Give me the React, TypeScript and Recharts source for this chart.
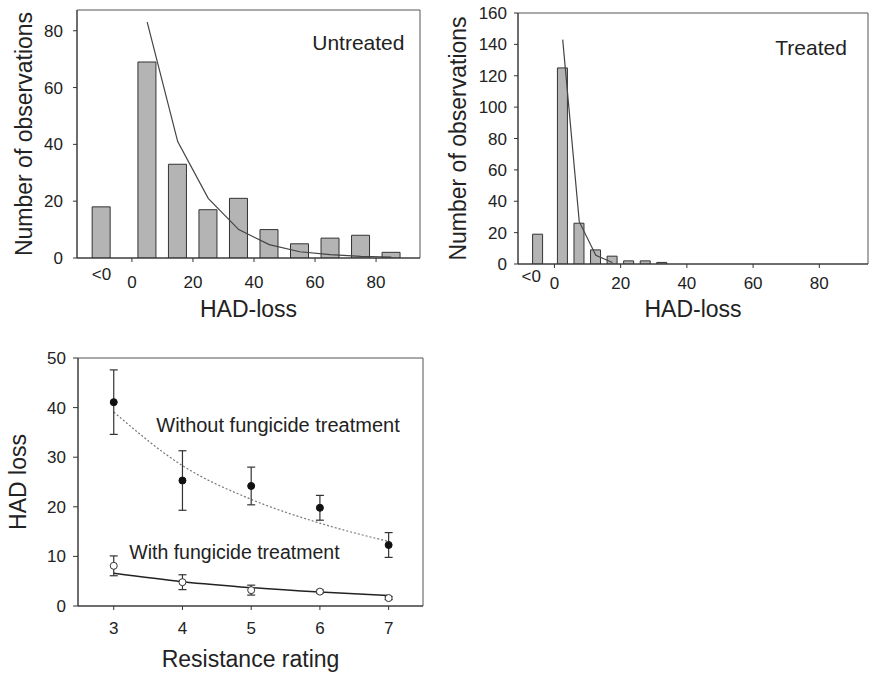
import {
  ComposedChart,
  Bar,
  Line,
  XAxis,
  YAxis,
  ReferenceArea,
  ReferenceDot,
  ErrorBar,
} from 'recharts'

// Histograms: bin centres on the HAD-loss axis, the "<0" class sits left of zero
const untreatedBins = [-10, 5, 15, 25, 35, 45, 55, 65, 75, 85]
const untreatedCounts = [18, 69, 33, 17, 21, 10, 5, 7, 8, 2]
const untreatedFit = [null, 83, 41, 21, 10, 4.7, 2.2, 1.2, 0.6, 0.3]

const treatedBins = [-5, 2.5, 7.5, 12.5, 17.5, 22.5, 27.5, 32.5]
const treatedCounts = [19, 125, 26, 9, 5, 2, 2, 1]
const treatedFit = [null, 143, 27, 5.5, 1, null, null, null]

const hadTicks = [0, 20, 40, 60, 80]
const untreatedCountTicks = [0, 20, 40, 60, 80]
const treatedCountTicks = [0, 20, 40, 60, 80, 100, 120, 140, 160]

// Resistance rating panel
const ratings = [3, 4, 5, 6, 7]
const withoutMean = [41.1, 25.3, 24.2, 19.8, 12.3]
const withoutErr = [6.5, 6, 3.8, 2.5, 2.5]
const withoutFit = [39.1, 28.3, 21.5, 16.7, 13.0]
const withMean = [8.1, 4.8, 3.2, 2.9, 1.6]
const withErr = [2, 1.5, 1, 0.3, 0.3]
const withFit = [6.6, 4.9, 3.7, 2.8, 2.1]
const lossTicks = [0, 10, 20, 30, 40, 50]

const untreatedData = untreatedBins.map((bin, i) => ({
  bin,
  count: untreatedCounts[i],
  fit: untreatedFit[i],
}))

const treatedData = treatedBins.map((bin, i) => ({
  bin,
  count: treatedCounts[i],
  fit: treatedFit[i],
}))

const ratingData = ratings.map((rating, i) => ({
  rating,
  withoutMean: withoutMean[i],
  withoutErr: withoutErr[i],
  withoutFit: withoutFit[i],
  withMean: withMean[i],
  withErr: withErr[i],
  withFit: withFit[i],
}))

const ink = '#222'
const axisColor = '#333'
const barFill = '#b4b4b4'

// x tick for the histograms: "<0" is raised and has no tick mark
function HistTick(props: any) {
  const { x, y, payload, gap, lift } = props
  if (payload.value < 0) {
    return (
      <text x={x} y={y - lift} dy="0.71em" textAnchor="middle" fontSize={17} fill={ink}>
        {'<0'}
      </text>
    )
  }
  return (
    <g>
      <line x1={x} x2={x} y1={y - gap} y2={y - gap + 4} stroke={axisColor} />
      <text x={x} y={y} dy="0.71em" textAnchor="middle" fontSize={17} fill={ink}>
        {payload.value}
      </text>
    </g>
  )
}

const yLabel = (value: string, offset: number) => ({
  value,
  angle: -90,
  position: 'insideLeft' as const,
  offset,
  fontSize: 23,
  fill: ink,
  style: { textAnchor: 'middle' },
})

const xLabel = (value: string, offset: number) => ({
  value,
  position: 'insideBottom' as const,
  offset,
  fontSize: 23,
  fill: ink,
})

export default function App() {
  return (
    <div
      style={{
        position: 'absolute',
        left: 0,
        top: 0,
        width: 872,
        height: 673,
        background: '#fff',
        fontFamily: '"Liberation Sans", Arial, sans-serif',
      }}
    >
      {/* Untreated histogram */}
      <div style={{ position: 'absolute', left: 0, top: 0 }}>
        <ComposedChart
          width={430}
          height={330}
          data={untreatedData}
          margin={{ top: 10, right: 10, bottom: 0, left: 0 }}
        >
          <XAxis
            dataKey="bin"
            type="number"
            domain={[-18, 94.4]}
            allowDataOverflow
            ticks={[-10, ...hadTicks]}
            tickSize={4}
            tickMargin={14}
            tickLine={false}
            tick={<HistTick gap={18} lift={8} />}
            height={72}
            stroke={axisColor}
            label={xLabel('HAD-loss', 13)}
          />
          <YAxis
            type="number"
            domain={[0, 87.3]}
            allowDataOverflow
            ticks={untreatedCountTicks}
            width={77}
            tickSize={4}
            tickMargin={10}
            stroke={axisColor}
            tick={{ fontSize: 17, fill: ink }}
            label={yLabel('Number of observations', 24)}
          />
          <ReferenceArea x1={-18} x2={94.4} y1={0} y2={87.3} fill="none" stroke="#555" />
          <Bar dataKey="count" barSize={18} fill={barFill} stroke={axisColor} isAnimationActive={false} />
          <Line
            dataKey="fit"
            type="linear"
            stroke="#444"
            strokeWidth={1.2}
            dot={false}
            isAnimationActive={false}
          />
          <ReferenceDot
            x={74.2}
            y={75.7}
            r={0}
            label={{ value: 'Untreated', position: 'center', fontSize: 21, fill: ink }}
          />
        </ComposedChart>
      </div>

      {/* Treated histogram */}
      <div style={{ position: 'absolute', left: 440, top: 0 }}>
        <ComposedChart
          width={432}
          height={330}
          data={treatedData}
          margin={{ top: 13, right: 4, bottom: 0, left: 0 }}
        >
          <XAxis
            dataKey="bin"
            type="number"
            domain={[-11, 94.7]}
            allowDataOverflow
            ticks={[-7, ...hadTicks]}
            tickSize={4}
            tickMargin={9}
            tickLine={false}
            tick={<HistTick gap={13} lift={7.5} />}
            height={66}
            stroke={axisColor}
            label={xLabel('HAD-loss', 13)}
          />
          <YAxis
            type="number"
            domain={[0, 160]}
            allowDataOverflow
            ticks={treatedCountTicks}
            width={78}
            tickSize={4}
            tickMargin={7}
            stroke={axisColor}
            tick={{ fontSize: 17, fill: ink }}
            label={yLabel('Number of observations', 17.5)}
          />
          <ReferenceArea x1={-11} x2={94.7} y1={0} y2={160} fill="none" stroke="#555" />
          <Bar dataKey="count" barSize={10} fill={barFill} stroke={axisColor} isAnimationActive={false} />
          <Line
            dataKey="fit"
            type="linear"
            stroke="#444"
            strokeWidth={1.2}
            dot={false}
            isAnimationActive={false}
          />
          <ReferenceDot
            x={77.5}
            y={138}
            r={0}
            label={{ value: 'Treated', position: 'center', fontSize: 21, fill: ink }}
          />
        </ComposedChart>
      </div>

      {/* HAD loss by resistance rating */}
      <div style={{ position: 'absolute', left: 0, top: 330 }}>
        <ComposedChart
          width={440}
          height={343}
          data={ratingData}
          margin={{ top: 28, right: 17, bottom: 0, left: 0 }}
        >
          <XAxis
            dataKey="rating"
            type="number"
            domain={[2.48, 7.5]}
            allowDataOverflow
            ticks={ratings}
            tickSize={4}
            tickMargin={12}
            height={67}
            stroke={axisColor}
            tick={{ fontSize: 17, fill: ink }}
            label={xLabel('Resistance rating', 6)}
          />
          <YAxis
            type="number"
            domain={[0, 50]}
            allowDataOverflow
            ticks={lossTicks}
            width={78}
            tickSize={5}
            tickMargin={7}
            stroke={axisColor}
            tick={{ fontSize: 17, fill: ink }}
            label={yLabel('HAD loss', 17.5)}
          />
          <ReferenceArea x1={2.48} x2={7.5} y1={0} y2={50} fill="none" stroke="#555" />
          <Line
            dataKey="withoutFit"
            type="monotone"
            stroke="#777"
            strokeWidth={1.2}
            strokeDasharray="2 2"
            dot={false}
            isAnimationActive={false}
          />
          <Line
            dataKey="withFit"
            type="monotone"
            stroke="#222"
            strokeWidth={1.5}
            dot={false}
            isAnimationActive={false}
          />
          <Line
            dataKey="withoutMean"
            stroke="none"
            dot={{ r: 3.5, fill: '#111', stroke: '#111' }}
            isAnimationActive={false}
          >
            <ErrorBar dataKey="withoutErr" direction="y" width={4} stroke="#333" strokeWidth={1.2} />
          </Line>
          <Line
            dataKey="withMean"
            stroke="none"
            dot={{ r: 3.5, fill: '#fff', stroke: '#333', strokeWidth: 1 }}
            isAnimationActive={false}
          >
            <ErrorBar dataKey="withErr" direction="y" width={4} stroke="#333" strokeWidth={1.2} />
          </Line>
          <ReferenceDot
            x={5.39}
            y={36.6}
            r={0}
            label={{ value: 'Without fungicide treatment', position: 'center', fontSize: 20, fill: ink }}
          />
          <ReferenceDot
            x={4.756}
            y={10.95}
            r={0}
            label={{ value: 'With fungicide treatment', position: 'center', fontSize: 19.5, fill: ink }}
          />
        </ComposedChart>
      </div>
    </div>
  )
}
